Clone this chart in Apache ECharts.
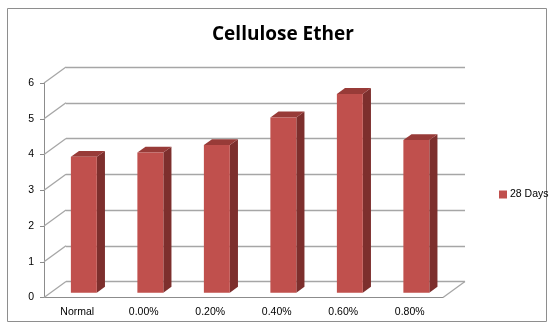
<!DOCTYPE html>
<html>
<head>
<meta charset="utf-8">
<script src="https://cdn.jsdelivr.net/npm/echarts@6/dist/echarts.min.js"></script>
<style>
  html, body { margin: 0; padding: 0; background: #fff; }
  #chart { width: 554px; height: 329px; }
</style>
</head>
<body>
<div id="chart"></div>
<script>
// Compressive strength at 28 days by cellulose ether dosage
const categories = ['Normal', '0.00%', '0.20%', '0.40%', '0.60%', '0.80%'];
const days28 = [3.8, 3.92, 4.13, 4.9, 5.56, 4.27];
const yTicks = [0, 1, 2, 3, 4, 5, 6];
const seriesName = '28 Days';

// oblique depth of the chart floor, and of each column (pixels)
const DEPTH = [22, -16];
const BAR_START = 0.3;     // fraction of floor depth where the column front sits
const BAR_DEPTH = 0.37;    // fraction of floor depth the column occupies
const BAR_WIDTH = 0.39;    // fraction of category width
const GRID_COLOR = '#a6a6a6';
const AXIS_COLOR = '#8c8c8c';

const front = { left: 44, right: 111, top: 83, bottom: 31.5 };
const back = {
  left: front.left + DEPTH[0], right: front.right - DEPTH[0],
  top: front.top + DEPTH[1], bottom: front.bottom - DEPTH[1]
};

const chart = echarts.init(document.getElementById('chart'), null, { renderer: 'canvas' });

const font = '"Liberation Sans", Arial, sans-serif';

chart.setOption({
  animation: false,
  title: {
    text: 'Cellulose Ether',
    left: 207, top: 20,
    textStyle: { fontFamily: '"Open Sans", sans-serif', fontWeight: 'bold', fontSize: 19, color: '#000' }
  },
  legend: {
    data: [{ name: seriesName, icon: 'rect' }],
    left: 494, top: 184,
    itemWidth: 8, itemHeight: 8, itemGap: 4,
    textStyle: { fontFamily: font, fontSize: 10.5, color: '#000', padding: [0, 0, 0, -2] }
  },
  graphic: [{
    type: 'rect', silent: true, z: -10,
    shape: { x: 7.5, y: 8.5, width: 539, height: 313 },
    style: { fill: 'none', stroke: '#8e8e8e', lineWidth: 1 }
  }],
  grid: [
    { left: front.left, right: front.right, top: front.top, bottom: front.bottom },
    { left: back.left, right: back.right, top: back.top, bottom: back.bottom }
  ],
  xAxis: [
    {
      gridIndex: 0, type: 'category', data: categories,
      axisLine: { lineStyle: { color: AXIS_COLOR } },
      axisTick: { length: 5, lineStyle: { color: AXIS_COLOR } },
      axisLabel: { fontFamily: font, fontSize: 10.5, color: '#000', margin: 9 }
    },
    { gridIndex: 0, type: 'value', min: 0, max: 6, show: false },
    { gridIndex: 1, type: 'category', data: categories, show: false }
  ],
  yAxis: [
    {
      gridIndex: 0, type: 'value', min: yTicks[0], max: yTicks[yTicks.length - 1], interval: 1,
      axisLine: { show: true, lineStyle: { color: AXIS_COLOR } },
      axisTick: { show: true, length: 4, lineStyle: { color: AXIS_COLOR } },
      splitLine: { show: false },
      axisLabel: { fontFamily: font, fontSize: 10.5, color: '#000', margin: 10 }
    },
    {
      gridIndex: 1, type: 'value', min: yTicks[0], max: yTicks[yTicks.length - 1], interval: 1,
      axisLine: { show: false }, axisTick: { show: false }, axisLabel: { show: false },
      splitLine: { show: true, lineStyle: { color: GRID_COLOR, width: 1.3 } }
    }
  ],
  series: [
    {
      // side-wall diagonals joining the front value ticks to the back wall
      type: 'custom', xAxisIndex: 1, yAxisIndex: 0, silent: true, z: 1,
      data: yTicks.map(v => [0, v]),
      renderItem(params, api) {
        const p = api.coord([0, api.value(1)]);
        return {
          type: 'line',
          shape: { x1: p[0], y1: p[1], x2: p[0] + DEPTH[0], y2: p[1] + DEPTH[1] },
          style: { stroke: GRID_COLOR, lineWidth: 1.3 }
        };
      }
    },
    {
      // right edge of the floor
      type: 'custom', xAxisIndex: 1, yAxisIndex: 0, silent: true, z: 1,
      data: [[6, 0]],
      renderItem(params, api) {
        const p = api.coord([api.value(0), api.value(1)]);
        return {
          type: 'line',
          shape: { x1: p[0], y1: p[1], x2: p[0] + DEPTH[0], y2: p[1] + DEPTH[1] },
          style: { stroke: GRID_COLOR, lineWidth: 1.3 }
        };
      }
    },
    {
      name: seriesName,
      type: 'custom', xAxisIndex: 0, yAxisIndex: 0, z: 5,
      itemStyle: { color: '#c0504d' },
      data: days28.map((v, i) => [i, v]),
      renderItem(params, api) {
        const i = api.value(0), v = api.value(1);
        const top = api.coord([i, v]);
        const base = api.coord([i, 0]);
        const catW = api.size([1, 0])[0];
        const w = catW * BAR_WIDTH;
        const sx = DEPTH[0] * BAR_START, sy = DEPTH[1] * BAR_START;
        const dx = DEPTH[0] * BAR_DEPTH, dy = DEPTH[1] * BAR_DEPTH;
        const xl = top[0] - w / 2 + sx, xr = xl + w;
        const yt = top[1] + sy, yb = base[1] + sy;
        return {
          type: 'group',
          children: [
            {
              type: 'polygon',
              shape: { points: [[xr, yb], [xr, yt], [xr + dx, yt + dy], [xr + dx, yb + dy]] },
              style: { fill: '#7d2f2d' }
            },
            {
              type: 'polygon',
              shape: { points: [[xl, yt], [xr, yt], [xr + dx, yt + dy], [xl + dx, yt + dy]] },
              style: { fill: '#983b38' }
            },
            {
              type: 'rect',
              shape: { x: xl, y: yt, width: w, height: yb - yt },
              style: { fill: '#c0504d' }
            }
          ]
        };
      }
    }
  ]
});
</script>
</body>
</html>
